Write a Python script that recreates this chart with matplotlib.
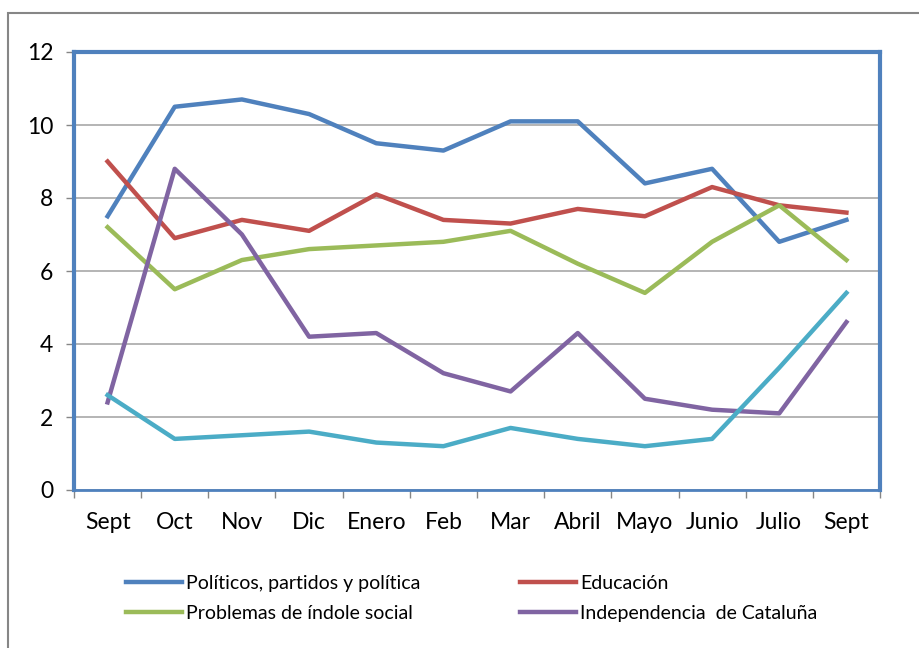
import matplotlib
matplotlib.use("Agg")
import matplotlib.pyplot as plt
from matplotlib.patches import Rectangle

# Datos
meses = ["Sept", "Oct", "Nov", "Dic", "Enero", "Feb", "Mar", "Abril",
         "Mayo", "Junio", "Julio", "Sept"]
politicos = [7.5, 10.5, 10.7, 10.3, 9.5, 9.3, 10.1, 10.1, 8.4, 8.8, 6.8, 7.4]
educacion = [9.0, 6.9, 7.4, 7.1, 8.1, 7.4, 7.3, 7.7, 7.5, 8.3, 7.8, 7.6]
social = [7.2, 5.5, 6.3, 6.6, 6.7, 6.8, 7.1, 6.2, 5.4, 6.8, 7.8, 6.3]
independencia = [2.4, 8.8, 7.0, 4.2, 4.3, 3.2, 2.7, 4.3, 2.5, 2.2, 2.1, 4.6]
otros = [2.6, 1.4, 1.5, 1.6, 1.3, 1.2, 1.7, 1.4, 1.2, 1.4, 3.35, 5.4]

plt.rcParams['font.family'] = ['Lato', 'DejaVu Sans']

fig = plt.figure(figsize=(9.2, 6.48), dpi=100)
ax = fig.add_axes([74 / 920, 1 - 490 / 648, 806 / 920, 438 / 648])

x = list(range(len(meses)))
lw = 3.2
l1, = ax.plot(x, politicos, color="#4F81BD", lw=lw, label="Políticos, partidos y política")
l2, = ax.plot(x, educacion, color="#C0504D", lw=lw, label="Educación")
l3, = ax.plot(x, social, color="#9BBB59", lw=lw, label="Problemas de índole social")
l4, = ax.plot(x, independencia, color="#8064A2", lw=lw, label="Independencia  de Cataluña")
ax.plot(x, otros, color="#4BACC6", lw=lw, label="_nolegend_")

ax.set_xlim(-0.5, len(meses) - 0.5)
ax.set_ylim(0, 12)
ax.set_yticks(range(0, 13, 2))
ax.set_xticks(x)
ax.set_xticklabels(meses, fontsize=16.5)
ax.tick_params(axis="x", length=0, pad=16)
ax.set_xticks([i - 0.5 for i in range(len(meses) + 1)], minor=True)
ax.tick_params(axis="x", which="minor", length=6, color="#868686", width=1)
ax.tick_params(axis="y", labelsize=16.5, length=6, color="#868686", width=1, pad=9)
ax.yaxis.grid(True, color="#A0A0A0", lw=1.1)
ax.set_axisbelow(True)

for s in ax.spines.values():
    s.set_color("#4F81BD")
    s.set_linewidth(3)
ax.spines["bottom"].set_linewidth(2)

# Marco exterior gris
fig.patches.append(Rectangle((8 / 920, -0.1), 1.2, 1 - 13 / 648 + 0.1,
                             transform=fig.transFigure, fill=False,
                             edgecolor="#868686", lw=1.5))

fig.legend(handles=[l1, l3, l2, l4], ncol=2, frameon=False, fontsize=14,
           loc="upper left", bbox_to_anchor=(126 / 920, 1 - 575 / 648),
           borderpad=0, borderaxespad=0,
           handlelength=2.9, handletextpad=0.2, columnspacing=5.1,
           labelspacing=0.65)

fig.savefig("out.png", dpi=100)
